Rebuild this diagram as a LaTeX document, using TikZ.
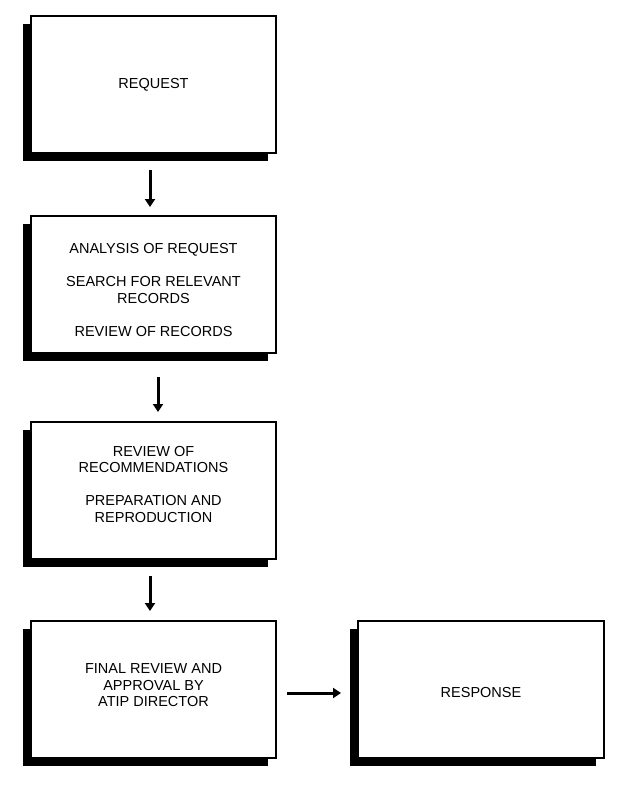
\documentclass[tikz,border=0pt]{standalone}
\usepackage{fontspec}
\setmainfont{Liberation Sans}
\usetikzlibrary{arrows.meta,shadows,positioning}
\newcommand{\boxtext}[2]{\raisebox{#1}[0pt][0pt]{\begin{tabular}{@{}c@{}}#2\end{tabular}}}
\tikzset{
block/.style={
  rectangle,
  draw,
  line width=2pt,
  fill=white,
  minimum width=245pt,
  minimum height=137pt,
  align=center,
  font=\fontsize{14.5}{16.5}\selectfont,
  general shadow={fill=black, shadow xshift=-8pt, shadow yshift=-8pt}},
line/.style={draw, line width=3pt, -{Triangle[width=10pt,length=8pt]}}
}
\begin{document}
\begin{tikzpicture}[x=1pt,y=-1pt]
    \useasboundingbox (0,0) rectangle (631,800);
    \node [block] (req) at (153.5,84.5) {\boxtext{-4pt}{REQUEST}};
    \node [block, below=61pt of req] (ana) {\boxtext{-11pt}{ANALYSIS OF REQUEST\\[16.5pt]
      SEARCH FOR RELEVANT\\RECORDS\\[16.5pt]REVIEW OF RECORDS}};
    \node [block, below=67pt of ana] (rev) {\boxtext{1pt}{REVIEW OF\\RECOMMENDATIONS\\[16.5pt]
      PREPARATION AND\\REPRODUCTION}};
    \node [block, below=60pt of rev] (fin) {\boxtext{-1pt}{FINAL REVIEW AND\\APPROVAL BY\\ATIP DIRECTOR}};
    \node [block, minimum width=246pt, right=80pt of fin] (resp) {\boxtext{-8pt}{RESPONSE}};
    \path [line, shorten <=16pt, shorten >=8pt] ([xshift=-3.5pt]req.south) -- ([xshift=-3.5pt]ana.north);
    \path [line, shorten <=23pt, shorten >=9pt] ([xshift=4.5pt]ana.south) -- ([xshift=4.5pt]rev.north);
    \path [line, shorten <=16pt, shorten >=9pt] ([xshift=-3.5pt]rev.south) -- ([xshift=-3.5pt]fin.north);
    \path [line, shorten <=10pt, shorten >=16pt] ([yshift=-3.5pt]fin.east) -- ([yshift=-3.5pt]resp.west);
\end{tikzpicture}
\end{document}
